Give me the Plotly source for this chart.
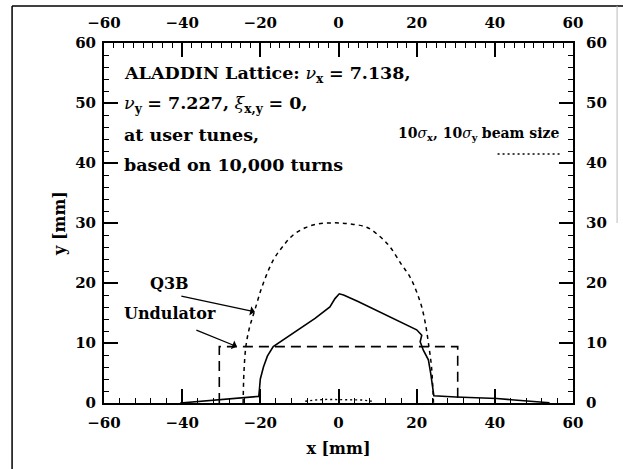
import plotly.graph_objects as go

# ---- data ----
# dynamic aperture (solid)
da_x = [-40.5, -35, -30.3, -25, -22, -20.4, -20.2, -20.0, -19.2, -18.2, -16.7, -13.0, -9.9, -6.0,
        -2.2, -0.9, 0.2, 1.3, 5.0, 10.0, 15.0, 20.0, 21.3, 20.9, 21.7, 23.0, 23.6, 24.1, 24.2,
        24.4, 30.0, 35.0, 40.5, 45.0, 50.0, 54.0]
da_y = [0.0, 0.3, 0.6, 0.85, 1.0, 1.1, 2.5, 4.0, 6.0, 7.8, 9.4, 11.0, 12.4, 14.1,
        16.0, 17.4, 18.2, 18.0, 16.9, 15.3, 13.8, 12.2, 11.3, 10.2, 8.8, 7.2, 4.9, 2.2, 1.3,
        1.2, 1.0, 0.9, 0.75, 0.5, 0.3, 0.05]

# Q3B aperture (short dashes)
q3b_x = [-24.4, -24.2, -23.7, -22.8, -21.4, -19.5, -16.7, -14.0, -11.6, -8.5, -5.6, -2.5, 0.4,
         3.5, 7.2, 10.5, 13.2, 16.0, 18.3, 20.0, 21.3, 22.3, 23.0, 23.8, 24.3]
q3b_y = [0.0, 5.0, 9.4, 12.5, 15.5, 19.5, 23.8, 26.3, 28.0, 29.2, 29.8, 30.0, 30.0,
         29.8, 29.3, 27.8, 26.0, 23.2, 21.0, 18.5, 16.0, 13.0, 10.0, 6.0, 0.0]

# Undulator aperture (long dashes)
und_x = [-30.5, -30.5, 30.5, 30.5]
und_y = [0.0, 9.4, 9.4, 0.0]

# 10 sigma beam size (dotted)
beam_x = [-8.5, -6.0, -3.0, 0.0, 3.0, 6.0, 8.5]
beam_y = [0.3, 0.5, 0.6, 0.6, 0.6, 0.5, 0.3]

x_ticks = [-60, -40, -20, 0, 20, 40, 60]
y_ticks = [0, 10, 20, 30, 40, 50, 60]

FONT = "DejaVu Serif"
tickfont = dict(family=FONT, size=15, color="black", weight="bold")

fig = go.Figure()
fig.add_trace(go.Scatter(x=da_x, y=da_y, mode="lines",
                         line=dict(color="black", width=1.6), hoverinfo="skip"))
fig.add_trace(go.Scatter(x=q3b_x, y=q3b_y, mode="lines", line_shape="spline",
                         line=dict(color="black", width=1.5, dash="4px,4px"), hoverinfo="skip"))
fig.add_trace(go.Scatter(x=und_x, y=und_y, mode="lines", xaxis="x2", yaxis="y2",
                         line=dict(color="black", width=1.6, dash="10px,6px"), hoverinfo="skip"))
fig.add_trace(go.Scatter(x=beam_x, y=beam_y, mode="lines",
                         line=dict(color="black", width=1.4, dash="2px,3px"), hoverinfo="skip"))

common = dict(showgrid=False, zeroline=False, showline=True, linecolor="black", linewidth=2,
              ticks="inside", ticklen=14, tickwidth=1.5, tickcolor="black", tickfont=tickfont)
mtick = dict(ticklen=5, ticks="inside", tickcolor="black", tickwidth=1.2)

fig.update_layout(
    width=623, height=469,
    margin=dict(l=104, r=50, t=43, b=66),
    paper_bgcolor="white", plot_bgcolor="white",
    showlegend=False,
    xaxis=dict(range=[-60, 60], tickvals=x_ticks, ticklabelstandoff=5, **common,
               minor=dict(dtick=4, tick0=-60, **mtick),
               title=dict(text="<b>x [mm]</b>", font=dict(family=FONT, size=16, color="black"), standoff=12)),
    xaxis2=dict(range=[-60, 60], tickvals=x_ticks, overlaying="x", side="top", matches="x",
                ticklabelstandoff=7, **common,
                minor=dict(dtick=2.5, tick0=-60, **mtick)),
    yaxis=dict(range=[0, 60], tickvals=y_ticks, ticklabelstandoff=3, **common,
               minor=dict(dtick=2, tick0=0, **mtick),
               title=dict(text="<b>y [mm]</b>", font=dict(family=FONT, size=16, color="black"), standoff=6)),
    yaxis2=dict(range=[0, 60], tickvals=y_ticks, overlaying="y", side="right", matches="y",
                ticklabelstandoff=8, **common,
                minor=dict(dtick=2, tick0=0, **mtick)),
)

tfont = dict(family=FONT, size=17.5, color="black")
lines = [
    ("<b>ALADDIN Lattice:</b> <i>ν</i><sub><b>x</b></sub> <b>= 7.138,</b>", 54.8),
    ("<i>ν</i><sub><b>y</b></sub> <b>= 7.227,</b> <i>ξ</i><sub><b>x,y</b></sub> <b>= 0,</b>", 49.8),
    ("<b>at user tunes,</b>", 44.6),
    ("<b>based on 10,000 turns</b>", 39.6),
]
for txt, yy in lines:
    fig.add_annotation(x=-55.4, y=yy, text=txt, showarrow=False, xanchor="left", yanchor="middle",
                       font=tfont)

fig.add_annotation(x=57, y=44.8,
                   text="<b>10</b><i>σ</i><sub><b>x</b></sub><b>, 10</b><i>σ</i><sub><b>y</b></sub> <b>beam size</b>",
                   showarrow=False, xanchor="right", yanchor="middle",
                   font=dict(family=FONT, size=14, color="black"))
fig.add_shape(type="line", x0=40.7, x1=56.7, y0=41.5, y1=41.5,
              line=dict(color="black", width=1.4, dash="2px,3px"))

lfont = dict(family=FONT, size=16, color="black")
fig.add_annotation(x=-48.7, y=20.0, text="<b>Q3B</b>", showarrow=False, xanchor="left",
                   yanchor="middle", font=lfont)
fig.add_annotation(x=-55.4, y=15.0, text="<b>Undulator</b>", showarrow=False, xanchor="left",
                   yanchor="middle", font=lfont)
fig.add_annotation(x=-21.4, y=15.2, ax=-75, ay=-16, text="", showarrow=True,
                   arrowhead=1, arrowsize=1.2, arrowwidth=1.3, arrowcolor="black")
fig.add_annotation(x=-26.0, y=9.4, ax=-42, ay=-17, text="", showarrow=True,
                   arrowhead=1, arrowsize=1.2, arrowwidth=1.3, arrowcolor="black")

# scanned page border
fig.add_shape(type="line", xref="paper", yref="paper", x0=-0.196, x1=-0.196, y0=-0.19, y1=1.103,
              line=dict(color="black", width=1.5))
fig.add_shape(type="line", xref="paper", yref="paper", x0=-0.196, x1=1.13, y0=1.103, y1=1.103,
              line=dict(color="black", width=1.5))
fig.add_shape(type="line", xref="paper", yref="paper", x0=1.094, x1=1.094, y0=0.5, y1=1.103,
              line=dict(color="#bbbbbb", width=1))

fig.write_html("out.html")
